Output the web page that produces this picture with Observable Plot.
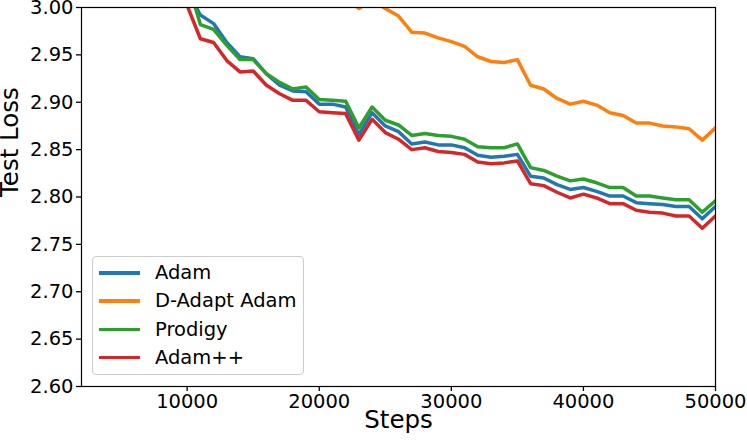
<!DOCTYPE html>
<html>
<head>
<meta charset="utf-8">
<script src="https://cdn.jsdelivr.net/npm/d3@7"></script>
<script src="https://cdn.jsdelivr.net/npm/@observablehq/plot@0.6"></script>
<style>
  html, body { margin: 0; padding: 0; background: white; }
  #wrap { position: relative; width: 747px; height: 440px; font-family: "DejaVu Sans", sans-serif; }
  #legend {
    position: absolute; left: 92px; top: 256px; width: 210px; height: 117px;
    border: 1px solid #cccccc; border-radius: 4px; background: rgba(255,255,255,0.8);
    box-sizing: content-box;
  }
  .row { position: absolute; left: 0; height: 28px; width: 100%; }
  .swatch { position: absolute; left: 6px; width: 41px; height: 3.5px; top: 12px; }
  .lab { position: absolute; left: 62px; top: 0; font-size: 19.5px; line-height: 28px; color: black; white-space: nowrap; }
</style>
</head>
<body>
<div id="wrap"></div>
<script>
// ---- data ----
const steps = [10000, 11000, 12000, 13000, 14000, 15000, 16000, 17000, 18000, 19000,
               20000, 21000, 22000, 23000, 24000, 25000, 26000, 27000, 28000, 29000,
               30000, 31000, 32000, 33000, 34000, 35000, 36000, 37000, 38000, 39000,
               40000, 41000, 42000, 43000, 44000, 45000, 46000, 47000, 48000, 49000, 50000];

const seriesNames = ["Adam", "D-Adapt Adam", "Prodigy", "Adam++"];
const seriesColors = ["#1f77b4", "#ff7f0e", "#2ca02c", "#d62728"];

const adam = [3.018, 2.992, 2.983, 2.963, 2.948, 2.946, 2.930, 2.918, 2.912, 2.911,
              2.898, 2.898, 2.895, 2.866, 2.889, 2.875, 2.869, 2.856, 2.858, 2.855,
              2.855, 2.852, 2.844, 2.842, 2.843, 2.845, 2.822, 2.820, 2.813, 2.808,
              2.810, 2.806, 2.801, 2.801, 2.794, 2.793, 2.792, 2.790, 2.790, 2.777, 2.790];

const dAdaptAdam = [null, null, null, null, null, null, null, null, null, null,
                    null, null, 3.010, 2.999, 3.008, 2.999, 2.991, 2.974, 2.973, 2.968,
                    2.964, 2.959, 2.948, 2.943, 2.942, 2.945, 2.918, 2.914, 2.904, 2.898,
                    2.901, 2.897, 2.889, 2.886, 2.878, 2.878, 2.875, 2.874, 2.872, 2.860, 2.873];

const prodigy = [3.029, 2.982, 2.977, 2.960, 2.945, 2.945, 2.930, 2.921, 2.914, 2.916,
                 2.903, 2.902, 2.901, 2.873, 2.895, 2.881, 2.876, 2.865, 2.867, 2.865,
                 2.864, 2.861, 2.853, 2.852, 2.852, 2.856, 2.831, 2.828, 2.822, 2.817,
                 2.819, 2.815, 2.810, 2.810, 2.801, 2.801, 2.799, 2.797, 2.797, 2.784, 2.796];

const adamPP = [3.002, 2.967, 2.963, 2.944, 2.932, 2.933, 2.918, 2.909, 2.902, 2.902,
                2.890, 2.889, 2.888, 2.860, 2.882, 2.868, 2.861, 2.850, 2.852, 2.848,
                2.847, 2.845, 2.837, 2.835, 2.836, 2.838, 2.814, 2.812, 2.805, 2.799,
                2.803, 2.799, 2.793, 2.793, 2.786, 2.784, 2.783, 2.780, 2.780, 2.767, 2.780];

const xTicks = [10000, 20000, 30000, 40000, 50000];
const yTicks = [2.60, 2.65, 2.70, 2.75, 2.80, 2.85, 2.90, 2.95, 3.00];
const xLabel = "Steps";
const yLabel = "Test Loss";

// ---- build ----
const allSeries = [adam, dAdaptAdam, prodigy, adamPP];
const data = [];
allSeries.forEach((vals, k) => {
  steps.forEach((s, i) => {
    if (vals[i] != null) data.push({step: s, loss: vals[i], series: seriesNames[k]});
  });
});

const chart = Plot.plot({
  width: 747,
  height: 440,
  marginLeft: 81,
  marginRight: 32,
  marginTop: 7,
  marginBottom: 54,
  style: {fontFamily: "DejaVu Sans", fontSize: "19.5px", color: "black", background: "white", overflow: "visible"},
  x: {domain: [2000, 50000]},
  y: {domain: [2.6, 3.0]},
  color: {domain: seriesNames, range: seriesColors},
  marks: [
    Plot.lineY(data, {x: "step", y: "loss", z: "series", stroke: "series", strokeWidth: 3.5, clip: true}),
    Plot.frame({stroke: "black", strokeWidth: 1.2}),
    Plot.axisX({ticks: xTicks, tickFormat: d3.format("d"), tickSize: 5, tickPadding: 3, label: null, strokeWidth: 1.3, fontSize: 19.5}),
    Plot.axisY({ticks: yTicks, tickFormat: d3.format(".2f"), tickSize: 5, tickPadding: 3, label: null, strokeWidth: 1.3, fontSize: 19.5}),
    Plot.text([xLabel], {frameAnchor: "bottom", dy: 41, fontSize: 24.5, text: d => d, fill: "black"}),
    Plot.text([yLabel], {frameAnchor: "left", rotate: -90, dx: -71, fontSize: 24.5, text: d => d, fill: "black"})
  ]
});

const wrap = document.getElementById("wrap");
wrap.appendChild(chart);

const legend = document.createElement("div");
legend.id = "legend";
seriesNames.forEach((name, k) => {
  const row = document.createElement("div");
  row.className = "row";
  row.style.top = (2 + k * 28.3) + "px";
  const sw = document.createElement("div");
  sw.className = "swatch";
  sw.style.background = seriesColors[k];
  const lab = document.createElement("div");
  lab.className = "lab";
  lab.textContent = name;
  row.appendChild(sw);
  row.appendChild(lab);
  legend.appendChild(row);
});
wrap.appendChild(legend);
</script>
</body>
</html>
